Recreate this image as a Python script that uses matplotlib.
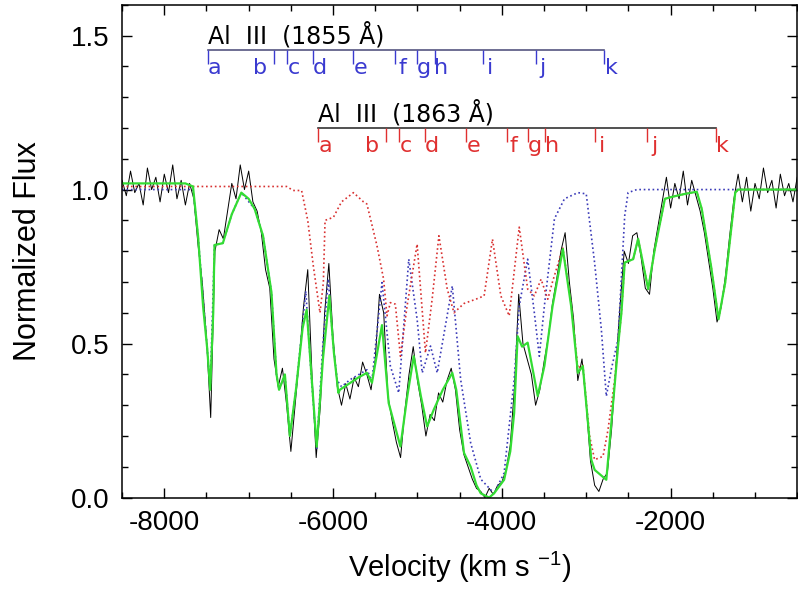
#!/bin/env python3

import matplotlib.pyplot as plt
import numpy as np
from matplotlib.ticker import MultipleLocator

plt.rcParams['font.family'] = ['Liberation Sans', 'DejaVu Sans']
plt.rcParams['mathtext.default'] = 'regular'
plt.rcParams['axes.unicode_minus'] = False

# observed spectrum, sampled every 50 km/s from -8500 to -500
flux_obs = [1.03, 0.98, 1.06, 0.99, 1.02, 0.95, 1.07, 1.00, 1.04, 0.96,
            1.05, 0.99, 1.08, 0.97, 1.03, 0.95, 1.02, 0.97, 0.82, 0.70,
            0.52, 0.26, 0.80, 0.87, 0.84, 0.93, 1.02, 0.97, 1.08, 1.00,
            1.06, 0.96, 0.93, 0.86, 0.74, 0.68, 0.45, 0.36, 0.42, 0.30,
            0.15, 0.30, 0.45, 0.62, 0.74, 0.40, 0.13, 0.30, 0.60, 0.76,
            0.52, 0.36, 0.30, 0.37, 0.32, 0.39, 0.36, 0.44, 0.40, 0.35,
            0.45, 0.66, 0.60, 0.33, 0.25, 0.18, 0.13, 0.28, 0.40, 0.49,
            0.38, 0.30, 0.20, 0.27, 0.25, 0.34, 0.31, 0.38, 0.42, 0.35,
            0.22, 0.14, 0.10, 0.06, 0.03, 0.02, 0.00, 0.03, 0.01, 0.04,
            0.05, 0.09, 0.17, 0.36, 0.66, 0.50, 0.45, 0.40, 0.30, 0.35,
            0.44, 0.52, 0.63, 0.71, 0.80, 0.86, 0.70, 0.58, 0.38, 0.45,
            0.30, 0.12, 0.04, 0.02, 0.06, 0.08, 0.22, 0.42, 0.62, 0.80,
            0.76, 0.85, 0.86, 0.78, 0.68, 0.66, 0.80, 0.88, 0.96, 1.04,
            0.94, 1.02, 0.97, 1.06, 0.95, 1.03, 0.98, 0.93, 0.86, 0.77,
            0.68, 0.57, 0.62, 0.72, 0.85, 0.97, 1.05, 0.96, 1.04, 0.93,
            1.02, 0.97, 1.07, 0.99, 1.03, 0.94, 1.05, 0.98, 1.02, 0.96,
            1.04]
v_obs = np.linspace(-8500, -500, len(flux_obs))

# total fit (green)
v_fit = [-8500, -7750, -7660, -7600, -7540, -7490, -7456, -7420, -7405, -7306,
         -7200, -7087, -7000, -6929, -6830, -6730, -6670, -6640, -6571, -6512,
         -6440, -6361, -6313, -6270, -6194, -6120, -6044, -5990, -5937, -5920,
         -5700, -5599, -5539, -5420, -5341, -5202, -5120, -5044, -4960, -4885,
         -4806, -4700, -4587, -4540, -4448, -4369, -4300, -4250, -4150, -4092,
         -3973, -3900, -3854, -3813, -3760, -3694, -3575, -3496, -3400, -3277,
         -3179, -3099, -3040, -2940, -2900, -2762, -2700, -2620, -2583, -2544,
         -2444, -2385, -2266, -2187, -2068, -1988, -1829, -1690, -1631, -1520,
         -1432, -1353, -1234, -1200, -500]
f_fit = [1.02, 1.02, 1.01, 0.85, 0.62, 0.48, 0.35, 0.60, 0.82, 0.826,
         0.92, 0.99, 0.97, 0.937, 0.85, 0.666, 0.40, 0.35, 0.40, 0.20,
         0.35, 0.55, 0.61, 0.45, 0.165, 0.45, 0.655, 0.47, 0.34, 0.35,
         0.39, 0.405, 0.373, 0.56, 0.307, 0.166, 0.33, 0.459, 0.33, 0.231,
         0.286, 0.35, 0.405, 0.35, 0.145, 0.10, 0.04, 0.014, 0.0, 0.014,
         0.058, 0.15, 0.275, 0.524, 0.49, 0.503, 0.33, 0.427, 0.62, 0.807,
         0.622, 0.405, 0.427, 0.123, 0.09, 0.058, 0.25, 0.50, 0.60, 0.763,
         0.774, 0.84, 0.677, 0.807, 0.97, 0.976, 0.986, 0.993, 0.937, 0.75,
         0.579, 0.698, 0.99, 1.0, 1.0]

# Al III 1855 components only (blue dotted)
v_blue = [-8500, -7660, -7600, -7490, -7456, -7405, -7306, -7200, -7087, -6929,
          -6830, -6730, -6670, -6640, -6571, -6512, -6440, -6323, -6260, -6194,
          -6120, -6056, -6000, -5950, -5900, -5798, -5599, -5539, -5420, -5321,
          -5222, -5103, -5004, -4944, -4845, -4766, -4587, -4488, -4369, -4250,
          -4092, -3973, -3854, -3794, -3694, -3615, -3556, -3496, -3377, -3258,
          -3099, -3000, -2901, -2821, -2762, -2700, -2623, -2544, -2504, -2400,
          -500]
f_blue = [1.0, 1.0, 0.85, 0.48, 0.35, 0.82, 0.826, 0.92, 0.99, 0.937,
          0.85, 0.666, 0.40, 0.35, 0.40, 0.20, 0.35, 0.67, 0.40, 0.16,
          0.50, 0.71, 0.50, 0.38, 0.36, 0.383, 0.415, 0.38, 0.698, 0.427,
          0.34, 0.774, 0.579, 0.405, 0.492, 0.405, 0.687, 0.383, 0.177, 0.06,
          0.014, 0.08, 0.383, 0.622, 0.774, 0.60, 0.459, 0.622, 0.905, 0.97,
          0.99, 0.986, 0.763, 0.546, 0.329, 0.42, 0.514, 0.915, 0.99, 1.0,
          1.0]

# Al III 1863 components only (red dotted)
v_red = [-8500, -6550, -6473, -6373, -6300, -6234, -6155, -6115, -6095, -5996,
         -5900, -5758, -5639, -5599, -5480, -5401, -5361, -5321, -5262, -5202,
         -5123, -5004, -4905, -4826, -4746, -4647, -4567, -4450, -4300, -4210,
         -4111, -4012, -3913, -3794, -3694, -3615, -3535, -3456, -3400, -3277,
         -3179, -3099, -3040, -2960, -2901, -2801, -2742, -2663, -2583, -2544,
         -2444, -2385, -2266, -2187, -2068, -1988, -1829, -1690, -1631, -1520,
         -1432, -1353, -1234, -1200, -500]
f_red = [1.01, 1.01, 0.997, 0.997, 0.90, 0.752, 0.60, 0.698, 0.90, 0.91,
         0.96, 0.99, 0.96, 0.953, 0.818, 0.709, 0.59, 0.633, 0.628, 0.459,
         0.622, 0.823, 0.47, 0.644, 0.85, 0.677, 0.60, 0.63, 0.645, 0.655,
         0.839, 0.655, 0.59, 0.878, 0.677, 0.655, 0.709, 0.644, 0.70, 0.81,
         0.63, 0.42, 0.43, 0.20, 0.123, 0.134, 0.22, 0.383, 0.60, 0.763,
         0.774, 0.84, 0.677, 0.807, 0.97, 0.976, 0.986, 0.993, 0.937, 0.75,
         0.579, 0.698, 0.99, 1.0, 1.0]

# component markers a-k
comp_names = ['a', 'b', 'c', 'd', 'e', 'f', 'g', 'h', 'i', 'j', 'k']
v_comp_1855 = [-7485, -6699, -6551, -6235, -5758, -5262, -5004, -4798, -4218, -3595, -2789]
v_comp_1863 = [-6175, -5369, -5223, -4913, -4420, -3940, -3687, -3485, -2893, -2277, -1464]

fig = plt.figure(figsize=(7.98, 5.91), dpi=100)
ax = fig.add_axes([0.153, 0.158, 0.846, 0.834])

ax.plot(v_obs, flux_obs, color='black', lw=0.7)
ax.plot(v_blue, f_blue, color='#3a3ab8', lw=1.2, ls=':')
ax.plot(v_red, f_red, color='#d83030', lw=1.2, ls=':')
ax.plot(v_fit, f_fit, color='#33dd33', lw=1.6)


def mark_components(v_comp, y_bar, title, bar_color, tick_color):
    ax.plot([v_comp[0], v_comp[-1]], [y_bar, y_bar], color=bar_color, lw=1.2)
    ax.vlines(v_comp, y_bar - 0.045, y_bar, color=tick_color, lw=1.0)
    for name, v in zip(comp_names, v_comp):
        # the 'b' label sits left of its tick in the original
        dx = -10 if name == 'b' else 5
        ax.annotate(name, (v, y_bar - 0.06), xytext=(dx, 0), textcoords='offset points',
                    ha='center', va='center', color=tick_color, fontsize=16,
                    family='DejaVu Sans')
    ax.text(v_comp[0], y_bar + 0.022, title, ha='left', va='baseline',
            fontsize=17, family='DejaVu Sans', color='black')


mark_components(v_comp_1855, 1.453, 'Al  III  (1855 Å)', '#555580', '#3a3ad0')
mark_components(v_comp_1863, 1.200, 'Al  III  (1863 Å)', '#333333', '#e03030')

ax.set_xlim(-8500, -500)
ax.set_ylim(0, 1.6)
ax.xaxis.set_major_locator(MultipleLocator(2000))
ax.xaxis.set_minor_locator(MultipleLocator(500))
ax.yaxis.set_major_locator(MultipleLocator(0.5))
ax.yaxis.set_minor_locator(MultipleLocator(0.1))
ax.yaxis.set_major_formatter(plt.FormatStrFormatter('%.1f'))
ax.tick_params(which='both', direction='in', top=True, right=True, width=1.0)
ax.tick_params(which='major', length=7, labelsize=20, pad=9)
ax.tick_params(which='minor', length=4.5)
for s in ax.spines.values():
    s.set_linewidth(1.1)

ax.set_xlabel('Velocity (km s $^{-1}$)', fontsize=21, labelpad=10)
ax.set_ylabel('Normalized Flux', fontsize=22, labelpad=20)

fig.savefig('out.png', dpi=100)
